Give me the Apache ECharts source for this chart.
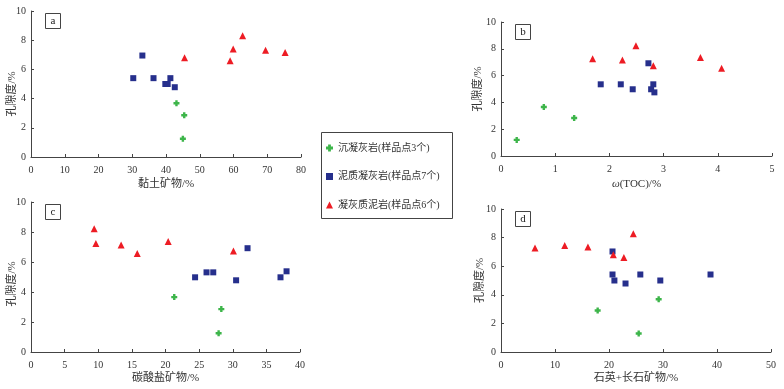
<!DOCTYPE html>
<html>
<head>
<meta charset="utf-8">
<script src="https://cdn.jsdelivr.net/npm/echarts@6/dist/echarts.min.js"></script>
<style>
html,body{margin:0;padding:0;background:#fff;}
#c{width:784px;height:389px;}
</style>
</head>
<body>
<div id="c"></div>
<script>
// ---- data ----
var seriesNames = ['沉凝灰岩(样品点3个)', '泥质凝灰岩(样品点7个)', '凝灰质泥岩(样品点6个)'];
var panelLetters = ['a', 'b', 'c', 'd'];
var xAxisNames = ['黏土矿物/%', '{i|ω}(TOC)/%', '碳酸盐矿物/%', '石英+长石矿物/%'];
var yAxisName = '孔隙度/%';
var xMax = [80, 5, 40, 50];
var xStep = [10, 1, 5, 10];

// panel a: clay minerals
var clayTuff = [[43.1, 3.68], [45.4, 2.86], [45.0, 1.25]];
var clayMudTuff = [[30.3, 5.4], [33.0, 6.95], [36.3, 5.4], [39.8, 5.0], [40.5, 5.0], [41.3, 5.4], [42.6, 4.78]];
var clayTuffMud = [[45.5, 6.8], [59.0, 6.6], [59.9, 7.4], [62.7, 8.3], [69.5, 7.32], [75.3, 7.16]];
// panel b: TOC
var tocTuff = [[0.29, 1.2], [0.79, 3.66], [1.35, 2.84]];
var tocMudTuff = [[1.84, 5.35], [2.21, 5.35], [2.43, 4.98], [2.72, 6.92], [2.77, 4.98], [2.81, 5.35], [2.83, 4.75]];
var tocTuffMud = [[1.69, 7.26], [2.24, 7.16], [2.49, 8.23], [2.81, 6.74], [3.68, 7.36], [4.07, 6.54]];
// panel c: carbonate minerals
var carbTuff = [[21.3, 3.66], [28.3, 2.86], [27.9, 1.25]];
var carbMudTuff = [[24.4, 4.98], [26.1, 5.31], [27.1, 5.31], [30.5, 4.78], [32.2, 6.92], [37.1, 4.98], [38.0, 5.38]];
var carbTuffMud = [[9.4, 8.21], [9.65, 7.23], [13.4, 7.14], [15.8, 6.56], [20.4, 7.37], [30.1, 6.74]];
// panel d: quartz + feldspar
var qfTuff = [[17.9, 2.9], [29.2, 3.69], [25.5, 1.29]];
var qfMudTuff = [[20.65, 7.03], [20.65, 5.42], [21.0, 5.0], [23.06, 4.79], [25.8, 5.42], [29.5, 5.0], [38.8, 5.42]];
var qfTuffMud = [[6.3, 7.27], [11.8, 7.45], [16.1, 7.34], [20.8, 6.8], [22.75, 6.61], [24.5, 8.27]];

var panelData = [
  [clayTuff, clayMudTuff, clayTuffMud],
  [tocTuff, tocMudTuff, tocTuffMud],
  [carbTuff, carbMudTuff, carbTuffMud],
  [qfTuff, qfMudTuff, qfTuffMud]
];

// ---- styles ----
var colors = ['#3db54a', '#262f8c', '#ed1c24'];
var symbols = ['path://M3,0H7V3H10V7H7V10H3V7H0V3H3Z', 'rect', 'triangle'];
var symbolSizes = [6, 6, 7];
var grids = [
  {left: 31, top: 11, width: 270, height: 146},
  {left: 501, top: 22, width: 271, height: 134},
  {left: 31, top: 202, width: 269, height: 150},
  {left: 501, top: 209, width: 270, height: 143}
];
var xNameGap = [22, 23, 21, 21];
var yNameGap = [13, 17, 13, 15];
var yNamePad = [[0, 20, 0, 0], [0, 0, 0, 0], [0, 14, 0, 0], [0, 0, 0, 0]];
var serif = '"Liberation Serif", "Noto Sans CJK SC", serif';
var axisColor = '#444';

var xAxes = [], yAxes = [], series = [], graphics = [];
for (var p = 0; p < 4; p++) {
  xAxes.push({
    type: 'value', gridIndex: p, min: 0, max: xMax[p], interval: xStep[p],
    name: xAxisNames[p], nameLocation: 'middle', nameGap: xNameGap[p], nameMoveOverlap: false,
    nameTextStyle: {fontFamily: serif, fontSize: 11, color: '#333',
      rich: {i: {fontFamily: serif, fontStyle: 'italic', fontSize: 11, color: '#333'}}},
    axisLine: {lineStyle: {color: axisColor, width: 1}},
    axisTick: {inside: true, length: 3, lineStyle: {color: axisColor}},
    axisLabel: {fontFamily: serif, fontSize: 10, color: '#333', margin: 8},
    splitLine: {show: false}
  });
  yAxes.push({
    type: 'value', gridIndex: p, min: 0, max: 10, interval: 2,
    name: yAxisName, nameLocation: 'middle', nameGap: yNameGap[p], nameRotate: 90,
    nameMoveOverlap: false,
    nameTextStyle: {fontFamily: serif, fontSize: 11, color: '#333', padding: yNamePad[p]},
    axisLine: {show: true, lineStyle: {color: axisColor, width: 1}},
    axisTick: {show: true, inside: true, length: 3, lineStyle: {color: axisColor}},
    axisLabel: {fontFamily: serif, fontSize: 10, color: '#333', margin: 5},
    splitLine: {show: false}
  });
  for (var s = 0; s < 3; s++) {
    series.push({
      type: 'scatter', name: seriesNames[s], xAxisIndex: p, yAxisIndex: p,
      data: panelData[p][s], symbol: symbols[s], symbolSize: symbolSizes[s],
      itemStyle: {color: colors[s], opacity: 1}
    });
  }
  var g = grids[p];
  graphics.push({
    type: 'group', left: g.left + 14, top: g.top + 2,
    children: [
      {type: 'rect', shape: {x: 0, y: 0, width: 15, height: 15},
        style: {fill: '#fff', stroke: '#444', lineWidth: 1}},
      {type: 'text', x: 7.5, y: 7.5,
        style: {text: panelLetters[p], font: '11px "Liberation Serif", serif', fill: '#222',
          textAlign: 'center', textVerticalAlign: 'middle'}}
    ]
  });
}
// legend frame
graphics.push({
  type: 'rect', left: 321, top: 132, z: -1,
  shape: {x: 0, y: 0, width: 131, height: 86},
  style: {fill: '#fff', stroke: '#444', lineWidth: 1}
});

var chart = echarts.init(document.getElementById('c'), null, {renderer: 'canvas'});
chart.setOption({
  backgroundColor: '#fff',
  animation: false,
  grid: grids,
  xAxis: xAxes,
  yAxis: yAxes,
  series: series,
  legend: {
    data: seriesNames, orient: 'vertical', left: 326, top: 143,
    itemWidth: 7, itemHeight: 7, itemGap: 18.5,
    padding: 0,
    textStyle: {fontFamily: serif, fontSize: 10, color: '#333'},
    selectedMode: false
  },
  graphic: graphics
});
</script>
</body>
</html>
